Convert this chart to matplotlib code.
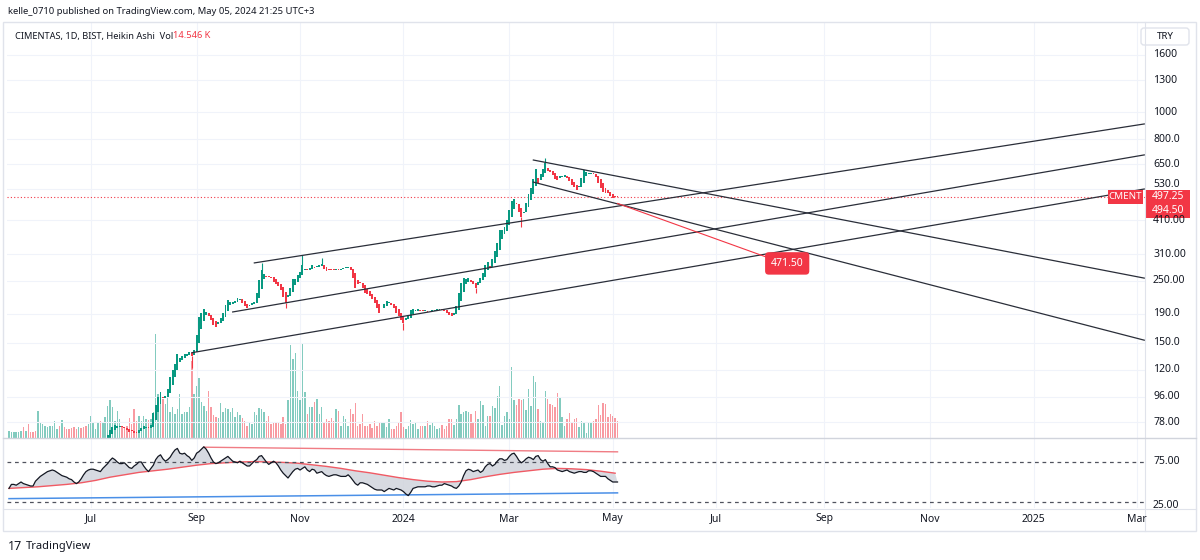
import numpy as np
import pandas as pd
import matplotlib
matplotlib.use("Agg")
import matplotlib.pyplot as plt
from matplotlib.patches import Rectangle, FancyBboxPatch

plt.rcParams["font.family"] = ["Noto Sans", "DejaVu Sans"]

# ---- data (Heikin Ashi close, volume in K, oscillator) ----
closes = [
    55, 55.5, 56, 56.5, 57, 57.5, 56.5, 57.5, 56.5, 56,
    55.5, 55, 57, 58, 58.5, 59, 59.5, 60, 60.5, 61.5,
    62, 61, 62.5, 61.5, 61, 60.5, 60, 59.5, 59, 60.5,
    59.8, 59.3, 58.8, 60, 62, 63, 63.5, 64, 63, 65,
    68, 70, 73, 75, 76, 75.5, 75.2, 74.8, 74, 73,
    72, 72.5, 71.5, 71, 73, 74.5, 75.5, 75, 74, 76,
    84, 90, 96, 100, 95, 97, 102, 113, 120, 126,
    136, 132, 134, 136, 137, 139, 134, 141, 160, 185,
    192, 197, 193, 186, 180, 174, 170, 177, 184, 191,
    205, 213, 209, 210, 212, 217, 215, 207, 203, 200,
    205, 207, 210, 225, 251, 273, 264, 258, 257, 255,
    248, 242, 239, 231, 218, 208, 222, 236, 253, 254,
    262, 268, 285, 274, 273, 278, 284, 278, 281, 284,
    287, 276, 270, 272, 273, 272, 273, 272, 276, 278,
    279, 280, 272, 256, 236, 243, 244, 236, 226, 224,
    220, 214, 208, 199, 191, 200, 206, 212, 209, 205,
    199, 192, 186, 180, 176, 183, 186, 196, 198, 196,
    197, 195, 194, 195, 193, 194, 196, 195, 197, 198,
    196, 195, 191, 189, 186, 192, 203, 225, 245, 256,
    253, 255, 247, 242, 236, 248, 256, 266, 285, 290,
    278, 298, 320, 340, 379, 380, 388, 411, 447, 480,
    490, 470, 440, 420, 438, 475, 510, 535, 575, 625,
    560, 600, 625, 655, 615, 610, 595, 578, 570, 590,
    588, 596, 580, 565, 550, 538, 528, 540, 580, 620,
    612, 605, 603, 600, 585, 560, 535, 518, 515, 512,
    500, 495, 498, 497.25,
]
last_close = 494.50

wick_low = {76: 122, 115: 200, 164: 167, 194: 225, 213: 387}
wick_high = {105: 289, 122: 309, 130: 302, 223: 686}

volume_k = [
    6.0, 5.1, 5.1, 5.1, 5.1, 6.0, 9.4, 6.0, 12.0, 5.1, 5.1, 6.0,
    23.1, 12.8, 12.0, 10.3, 9.4, 10.3, 10.3, 14.5, 7.7, 10.3, 15.4, 9.4,
    7.7, 7.7, 8.6, 9.4, 7.7, 9.4, 8.6, 9.4, 10.3, 12.0, 18.8, 13.7,
    7.7, 13.7, 14.5, 13.7, 18.0, 27.4, 32.5, 26.5, 14.5, 23.1, 16.2, 10.3,
    9.4, 10.3, 17.1, 12.0, 24.8, 14.5, 18.8, 14.5, 18.8, 16.2, 15.4, 16.2,
    22.2, 88.9, 37.6, 31.6, 33.3, 29.1, 37.6, 22.2, 26.5, 20.5, 24.8, 37.6,
    20.5, 22.2, 22.2, 26.5, 65.8, 37.6, 44.5, 51.3, 30.8, 27.4, 23.1, 40.2,
    26.5, 19.7, 18.0, 17.1, 29.9, 22.2, 25.7, 24.8, 22.2, 25.7, 18.0, 22.2,
    19.7, 17.1, 14.5, 10.3, 13.7, 12.0, 22.2, 19.7, 25.7, 24.8, 22.2, 14.5,
    18.8, 12.0, 13.7, 12.8, 13.7, 12.0, 18.0, 12.0, 32.5, 79.5, 67.5, 72.7,
    40.2, 32.5, 81.2, 39.3, 20.5, 26.5, 26.5, 30.8, 33.3, 20.5, 26.5, 13.7,
    16.2, 14.5, 17.1, 14.5, 24.8, 23.1, 10.3, 18.8, 16.2, 10.3, 24.8, 20.5,
    29.9, 10.3, 12.0, 20.5, 10.3, 10.3, 12.0, 8.6, 14.5, 10.3, 13.7, 13.7,
    13.7, 9.4, 16.2, 7.7, 7.7, 10.3, 13.7, 22.2, 9.4, 7.7, 10.3, 15.4,
    12.0, 13.7, 7.7, 10.3, 10.3, 10.3, 14.5, 11.1, 13.7, 10.3, 7.7, 8.6,
    11.1, 7.7, 10.3, 16.2, 16.2, 11.1, 16.2, 28.2, 20.5, 22.2, 23.1, 22.2,
    20.5, 13.7, 23.1, 16.2, 31.6, 28.2, 10.3, 18.8, 18.8, 27.4, 25.7, 35.9,
    44.5, 11.1, 18.8, 22.2, 16.2, 60.7, 32.5, 28.2, 33.3, 32.5, 33.3, 23.9,
    41.9, 27.4, 53.0, 47.9, 24.8, 14.5, 12.8, 40.2, 33.3, 29.1, 28.2, 26.5,
    38.5, 35.1, 18.0, 10.3, 16.2, 21.4, 12.8, 16.2, 17.1, 9.4, 14.5, 12.8,
    4.3, 13.7, 13.7, 14.5, 16.2, 28.2, 19.7, 29.9, 29.1, 18.0, 20.5, 18.8,
    17.1, 14.546,
]

osc = [
    42, 47, 47, 46, 48, 50, 48, 47, 46, 45,
    45, 51, 54, 57, 59, 61, 63, 64, 65, 64,
    62, 60, 58, 57, 56, 54, 53, 50, 48, 50,
    54, 59, 63, 65, 66, 66, 65, 64, 63, 67,
    70, 73, 77, 80, 78, 75, 73, 73, 74, 71,
    68, 67, 70, 72, 75, 75, 70, 66, 63, 67,
    71, 78, 82, 84, 79, 76, 78, 81, 86, 90,
    92, 86, 85, 86, 83, 81, 77, 80, 86, 88,
    91, 94, 91, 86, 80, 75, 73, 74, 76, 78,
    80, 82, 79, 76, 75, 74, 76, 74, 72, 70,
    70, 73, 76, 78, 82, 83, 79, 75, 72, 74,
    76, 74, 70, 65, 61, 58, 55, 59, 63, 66,
    67, 65, 67, 69, 65, 63, 66, 65, 61, 62,
    63, 60, 58, 57, 58, 59, 59, 58, 57, 57,
    57, 59, 56, 52, 48, 46, 49, 49, 48, 47,
    45, 43, 41, 40, 40, 40, 38, 40, 42, 41,
    40, 42, 41, 40, 38, 35, 33, 37, 42, 43,
    44, 44, 44, 44, 45, 45, 44, 44, 45, 46,
    46, 48, 47, 46, 45, 43, 42, 45, 50, 58,
    64, 66, 65, 63, 64, 65, 62, 64, 69, 72,
    73, 70, 72, 76, 79, 79, 77, 78, 82, 85,
    86, 82, 77, 74, 76, 79, 81, 80, 78, 82,
    83, 78, 76, 78, 73, 69, 69, 68, 65, 64,
    63, 64, 65, 63, 62, 61, 62, 63, 63, 62,
    62, 64, 64, 63, 61, 59, 57, 57, 57, 54,
    52, 50, 50, 50,
]
# oscillator average, read every 6 bars
osc_ma_step = 6
osc_ma = [42, 43, 44, 45.5, 47, 49, 52, 56, 59, 62, 64, 66, 68.5, 71, 73,
          74, 75, 75.5, 75, 74.5, 73.5, 71.5, 69.5, 67, 64, 61.5, 58.5,
          55.5, 53, 51, 50, 50.5, 53, 56.5, 59.5, 62, 64, 66, 67, 66.5,
          65.5, 63.5, 61]
upper_band_bars, upper_band_vals = [81, 253], [93.5, 87.7]
lower_band_bars, lower_band_vals = [0, 253], [29.2, 36.4]

# drawn trend lines: start bar/price -> end bar/price (end = right edge)
trend_bars = [(102, 472), (93, 472), (76, 472), (218, 472), (218, 472)]
trend_prices = [(289, 907), (193, 703), (138, 531), (674, 255), (562, 153)]
target_bars, target_prices = (253, 315), (471.5, 303)

price_ticks = [1600, 1300, 1000, 800, 650, 530, 410, 310, 250, 190, 150, 120, 96, 78]
price_tick_labels = ["1600", "1300", "1000", "800.0", "650.0", "530.0", "410.00",
                     "310.00", "250.00", "190.0", "150.0", "120.0", "96.00", "78.00"]

GREEN, RED = "#089981", "#f23645"
TXT, GRID, FRAME = "#131722", "#f0f3fa", "#e0e3eb"

# ---- layout in pixels ----
W, H = 1200, 560
X0, X1 = 7, 1145
PY0, PY1 = 22, 438
IY0, IY1 = 438, 508


def rect(x0, y0, x1, y1):
    return [x0 / W, 1 - y1 / H, (x1 - x0) / W, (y1 - y0) / H]


fig = plt.figure(figsize=(12, 5.6), dpi=100)
fig.patch.set_facecolor("white")

n = len(closes)
idx = np.arange(n)
dates = pd.bdate_range(end="2024-05-03", periods=n)
closes = np.array(closes, dtype=float)
opens = np.empty(n)
opens[0] = closes[0]
for k in range(1, n):
    opens[k] = (opens[k - 1] + closes[k - 1]) / 2
up = closes >= opens
colors = np.where(up, GREEN, RED)

xlim = (-0.83, 472.3)

axv = fig.add_axes(rect(X0, PY0, X1, PY1))
ax = fig.add_axes(rect(X0, PY0, X1, PY1), sharex=axv)
axi = fig.add_axes(rect(X0, IY0, X1, IY1), sharex=axv)
for a in (axv, ax, axi):
    a.set_xlim(*xlim)
    for s in a.spines.values():
        s.set_visible(False)
    a.tick_params(left=False, bottom=False, labelleft=False, labelbottom=False)
ax.patch.set_visible(False)
axv.set_zorder(1)
ax.set_zorder(2)
axi.set_zorder(2)

# month ticks
all_days = pd.bdate_range(start=dates[0], periods=480)
tick_pos, tick_lab = [], []
for k in range(1, len(all_days)):
    d = all_days[k]
    if d.month != all_days[k - 1].month and d.month % 2 == 1 and k < xlim[1]:
        tick_pos.append(k)
        tick_lab.append(str(d.year) if d.month == 1 else d.strftime("%b"))

# price pane
ax.set_yscale("log")
ax.set_ylim(68.4, 2099)
ax.yaxis.set_minor_locator(matplotlib.ticker.NullLocator())
for v in price_ticks:
    ax.axhline(v, color=GRID, lw=0.8, zorder=0)
for p in tick_pos:
    axv.axvline(p, color=GRID, lw=0.8, zorder=0)
    axi.axvline(p, color=GRID, lw=0.8, zorder=0)

lo = np.minimum(opens, closes)
hi = np.maximum(opens, closes)
hgt = np.maximum(hi - lo, hi * 0.007)
for k, v in wick_low.items():
    ax.vlines(k, v, lo[k], color=colors[k], lw=0.8, zorder=3)
for k, v in wick_high.items():
    ax.vlines(k, hi[k], v, color=colors[k], lw=0.8, zorder=3)
ax.bar(idx, hgt, bottom=lo, width=0.8, color=colors, linewidth=0, zorder=4)

ax.axhline(closes[-1], color=RED, lw=0.8, ls=(0, (1, 2)), zorder=2)

for (b0, b1), (p0, p1) in zip(trend_bars, trend_prices):
    ax.plot([b0, b1], [p0, p1], color="#2a2e39", lw=0.9, zorder=5)
ax.plot(target_bars, target_prices, color=RED, lw=0.8, zorder=5)
ax.annotate(f"{target_prices[0]:.2f}", xy=(target_bars[1], target_prices[1]),
            xytext=(3, -4.5), textcoords="offset points", ha="left", va="center",
            color="white", fontsize=7.5, zorder=6,
            bbox=dict(boxstyle="round,pad=0.55,rounding_size=0.35", fc=RED, ec="none"))

# volume
axv.set_ylim(0, 356)
axv.bar(idx, volume_k, width=0.6, color=colors, alpha=0.5, linewidth=0, zorder=2)

# oscillator pane
axi.set_ylim(17.5, 105)
osc_x = np.arange(0, n, osc_ma_step)[:len(osc_ma)]
poly_x = np.concatenate([idx, osc_x[::-1]])
poly_y = np.concatenate([osc, osc_ma[::-1]])
axi.fill(poly_x, poly_y, color="#d1d4dc", alpha=0.85, lw=0, zorder=2)
axi.plot(idx, osc, color="#131722", lw=0.9, zorder=4)
axi.plot(osc_x, osc_ma, color="#f05a64", lw=1.0, zorder=3)
axi.plot(upper_band_bars, upper_band_vals, color="#f07c84", lw=1.0, zorder=3)
axi.plot(lower_band_bars, lower_band_vals, color="#4a8fe7", lw=1.1, zorder=3)
for lvl in (75, 25):
    axi.axhline(lvl, color="#50535e", lw=0.9, ls=(0, (3, 3)), zorder=3)

# ---- overlay (pixel coordinates) ----
fg = fig.add_axes([0, 0, 1, 1], zorder=10)
fg.set_xlim(0, W)
fg.set_ylim(H, 0)
fg.axis("off")


def py(a, v):
    return H - a.transData.transform((0, v))[1]


def px(i):
    return ax.transData.transform((i, 1))[0]


fg.add_patch(Rectangle((3, 22), 1193, 509, fill=False, ec=FRAME, lw=1))
fg.plot([X1, X1], [22, 531], color=FRAME, lw=0.8)
fg.plot([3, 1196], [IY0, IY0], color="#d1d4dc", lw=1)
fg.plot([3, 1196], [509, 509], color=FRAME, lw=0.8)

fg.text(8, 12, "kelle_0710 published on TradingView.com, May 05, 2024 21:25 UTC+3",
        fontsize=6.8, color=TXT, va="center")
t1 = fg.text(15, 36, "CIMENTAS, 1D, BIST, Heikin Ashi  Vol", fontsize=6.7, color=TXT, va="center")
fg.annotate(f"{volume_k[-1]:.3f} K", xy=(1, 0.5), xycoords=t1, va="center", ha="left",
            fontsize=6.7, color=RED)

fg.add_patch(FancyBboxPatch((1141, 28), 48, 17, boxstyle="round,pad=0,rounding_size=3",
                            fc="white", ec=FRAME, lw=1))
fg.text(1165, 36.5, "TRY", ha="center", va="center", fontsize=7, color=TXT)

yp = py(ax, closes[-1])
clip_above = Rectangle((X1, PY0), 55, yp - 7 - PY0, transform=fg.transData)
clip_below = Rectangle((X1, yp + 21), 55, PY1 - yp - 21, transform=fg.transData)
for v, lab in zip(price_ticks, price_tick_labels):
    yv = py(ax, v)
    if yp - 12 < yv < yp:
        yv = yp - 12      # keep clear of the last-price labels
    t = fg.text(1153, yv, lab, ha="left", va="center", fontsize=7.5, color=TXT)
    t.set_clip_path(clip_above if yv < yp else clip_below)

fg.add_patch(Rectangle((1108, yp - 7), 35, 14, fc=RED, ec="none"))
fg.text(1125.5, yp, "CMENT", ha="center", va="center", fontsize=7, color="white")
fg.add_patch(Rectangle((1146, yp - 7), 44, 14, fc=RED, ec="none"))
fg.text(1168, yp, f"{closes[-1]:.2f}", ha="center", va="center", fontsize=7.5, color="white")
fg.add_patch(Rectangle((1146, yp + 7), 44, 14, fc=RED, ec="none"))
fg.text(1168, yp + 14, f"{last_close:.2f}", ha="center", va="center", fontsize=7.5, color="white")

clip_ind = Rectangle((X1, IY0), 55, IY1 - IY0, transform=fg.transData)
for lvl in (75, 25):
    yv = py(axi, lvl) + (3 if lvl == 25 else 0)
    t = fg.text(1153, yv, f"{lvl:.2f}", ha="left", va="center", fontsize=7.5, color=TXT)
    t.set_clip_path(clip_ind)

clip_time = Rectangle((0, 509), X1, 22, transform=fg.transData)
for p, lab in zip(tick_pos, tick_lab):
    t = fg.text(px(p), 519, lab, ha="center", va="center", fontsize=7.5, color=TXT,
                fontweight="bold" if lab.isdigit() else "normal")
    t.set_clip_path(clip_time)

fg.text(8, 546, "17", fontsize=9, fontweight="bold", color=TXT, va="center")
fg.text(26, 546, "TradingView", fontsize=8, color=TXT, va="center")

fig.savefig("out.png", dpi=100)
